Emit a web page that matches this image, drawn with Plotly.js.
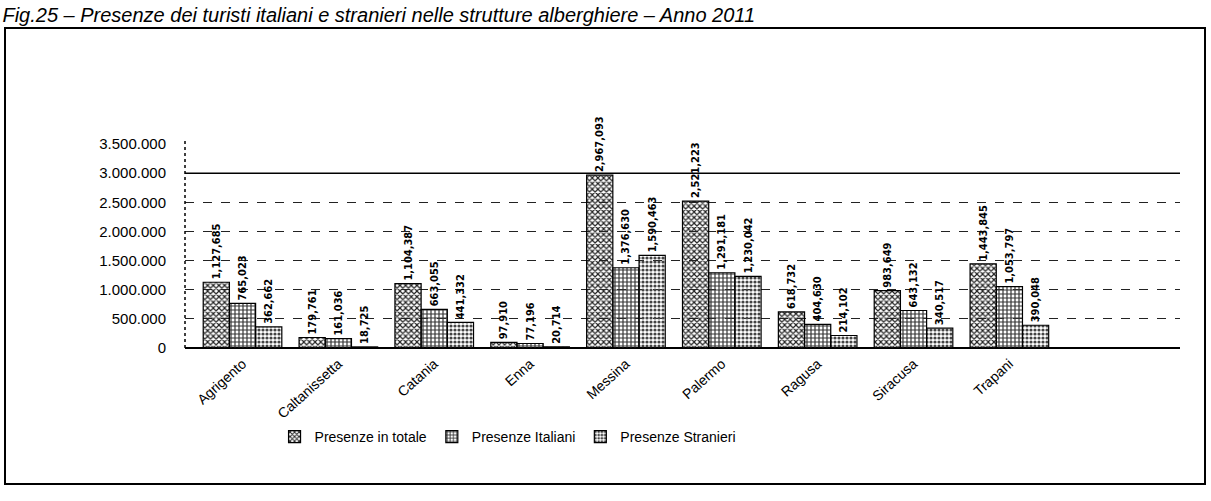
<!DOCTYPE html>
<html>
<head>
<meta charset="utf-8">
<script src="https://cdn.plot.ly/plotly-3.0.1.min.js"></script>
<style>html,body{margin:0;padding:0;background:#fff;}#chart{width:1211px;height:501px;}</style>
</head>
<body>
<div id="chart"></div>
<script>
const province = ["Agrigento","Caltanissetta","Catania","Enna","Messina","Palermo","Ragusa","Siracusa","Trapani"];
const presenzeTotale   = [1127685, 179761, 1104387, 97910, 2967093, 2521223, 618732, 983649, 1443845];
const presenzeItaliani = [765023, 161036, 663055, 77196, 1376630, 1291181, 404630, 643132, 1053797];
const presenzeStranieri= [362662, 18725, 441332, 20714, 1590463, 1230042, 214102, 340517, 390048];
const yTickVals  = [0, 500000, 1000000, 1500000, 2000000, 2500000, 3000000, 3500000];
const yTickText  = ["0","500.000","1.000.000","1.500.000","2.000.000","2.500.000","3.000.000","3.500.000"];

const labelFont = {family: "DejaVu Sans Condensed, DejaVu Sans, sans-serif", size: 11, color: "#000", weight: "bold"};
function series(name, vals, color, shape, fg) {
  return {
    type: "bar", name: name, x: province, y: vals,
    text: vals, texttemplate: "%{y:,.0f}", textposition: "outside", textangle: -90,
    textfont: labelFont, cliponaxis: false, constraintext: "none",
    marker: {color: color, line: {color: "#000", width: 1.2},
             pattern: {shape: shape, fgcolor: fg, size: 4, solidity: 0.5}},
    hoverinfo: "x+y"
  };
}
const data = [
  series("Presenze in totale", presenzeTotale, "#8a8a8a", "x", "#222"),
  series("Presenze Italiani", presenzeItaliani, "#b0b0b0", "+", "#333"),
  series("Presenze Stranieri", presenzeStranieri, "#c4c4c4", ".", "#444")
];

const L = 185, R = 1180, T = 144, B = 348;
const pw = R - L, ph = B - T;
function px(x){ return (x - L)/pw; }
function py(y){ return (B - y)/ph; }

const layout = {
  width: 1211, height: 501,
  margin: {l: L, r: 1211 - R, t: T, b: 501 - B, pad: 0},
  paper_bgcolor: "#fff", plot_bgcolor: "#fff",
  barmode: "group", bargap: 0.18, bargroupgap: 0,
  uniformtext: {mode: false},
  showlegend: true,
  legend: {orientation: "h", x: 0.09, y: py(437), yanchor: "middle", xanchor: "left",
           font: {family: "Liberation Sans, Arial, sans-serif", size: 14, color: "#000"},
           itemwidth: 30, tracegroupgap: 0, bgcolor: "rgba(0,0,0,0)"},
  title: {text: "Fig.25 – Presenze dei turisti italiani e stranieri nelle strutture alberghiere – Anno 2011",
          x: 0.002, xanchor: "left", y: 0.985, yanchor: "top",
          font: {family: "Liberation Sans, Arial, sans-serif", size: 20, color: "#000", style: "italic"}},
  xaxis: {type: "category", range: [-0.6, 9.78], tickangle: -42, showgrid: false, zeroline: false,
          showline: false, ticks: "", ticklabelstandoff: 4,
          tickfont: {family: "Liberation Sans, Arial, sans-serif", size: 14, color: "#000"}},
  yaxis: {range: [0, 3500000], tickvals: yTickVals, ticktext: yTickText, showgrid: true,
          gridcolor: "#222", gridwidth: 1, griddash: "dash", zeroline: true, zerolinecolor: "#000",
          zerolinewidth: 1.5, showline: false, ticks: "", ticklabelstandoff: 18,
          tickfont: {family: "Liberation Sans, Arial, sans-serif", size: 15, color: "#000"}},
  shapes: [
    {type: "rect", xref: "paper", yref: "paper", x0: px(5), x1: px(1205), y0: py(484), y1: py(28),
     line: {color: "#000", width: 2}},
    {type: "line", xref: "paper", yref: "paper", x0: 0, x1: 0, y0: 0, y1: 1.02,
     line: {color: "#000", width: 1.5, dash: "dot"}},
    {type: "line", xref: "paper", yref: "y", x0: 0, x1: 1, y0: 3000000, y1: 3000000,
     line: {color: "#000", width: 1.5}}
  ]
};
Plotly.newPlot("chart", data, layout, {displayModeBar: false, staticPlot: true});
</script>
</body>
</html>
